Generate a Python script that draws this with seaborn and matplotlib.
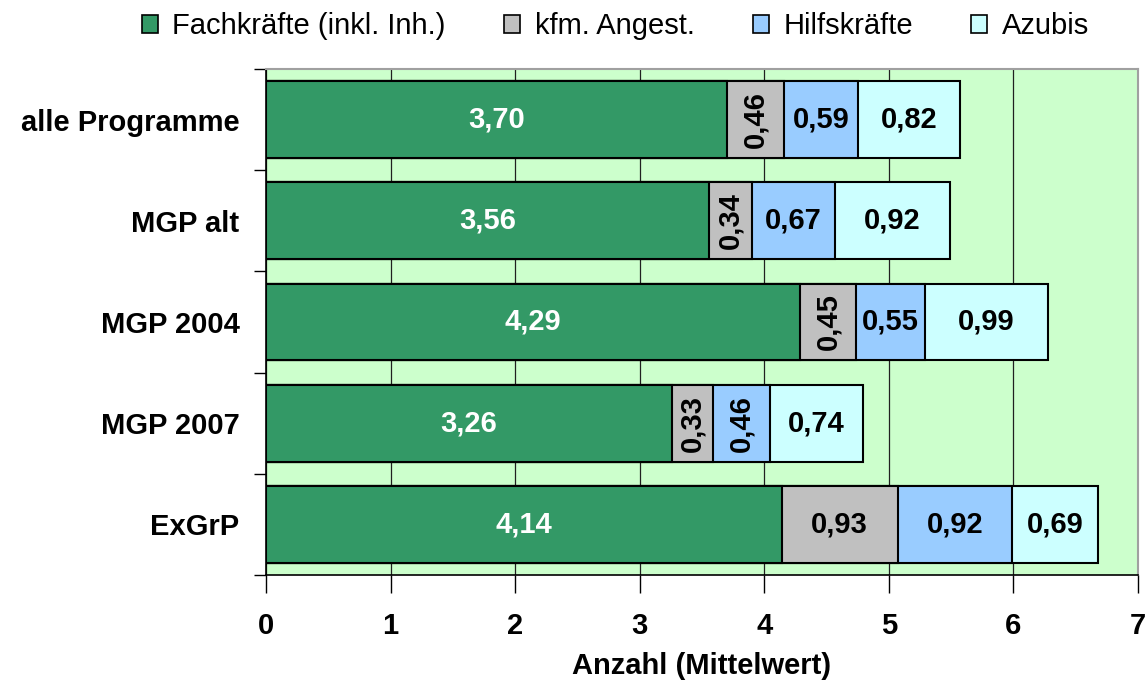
import matplotlib
matplotlib.use("Agg")
import matplotlib.pyplot as plt
from matplotlib.patches import Patch
import numpy as np
import pandas as pd
import seaborn as sns

# Mittelwerte der Beschäftigten je Förderprogramm
categories = ["alle Programme", "MGP alt", "MGP 2004", "MGP 2007", "ExGrP"]
fachkraefte = [3.70, 3.56, 4.29, 3.26, 4.14]
kfm_angest = [0.46, 0.34, 0.45, 0.33, 0.93]
hilfskraefte = [0.59, 0.67, 0.55, 0.46, 0.92]
azubis = [0.82, 0.92, 0.99, 0.74, 0.69]

series_names = ["Fachkräfte (inkl. Inh.)", "kfm. Angest.", "Hilfskräfte", "Azubis"]
series_values = [fachkraefte, kfm_angest, hilfskraefte, azubis]
series_colors = ["#339966", "#C0C0C0", "#99CCFF", "#CCFFFF"]
label_colors = ["white", "black", "black", "black"]
x_ticks = [0, 1, 2, 3, 4, 5, 6, 7]

sns.set_theme(style="white")
plt.rcParams["font.family"] = ["Liberation Sans", "DejaVu Sans"]
plt.rcParams["text.color"] = "black"
plt.rcParams["xtick.color"] = "black"
plt.rcParams["ytick.color"] = "black"
plt.rcParams["axes.labelcolor"] = "black"

fig = plt.figure(figsize=(11.46, 6.89), dpi=100)
ax = fig.add_axes([0.2321, 0.1655, 0.7609, 0.7344])
ax.set_facecolor("#CCFFCC")

vals = np.array(series_values)
cum = np.cumsum(vals, axis=0)
starts = cum - vals

# Stacked bars: draw cumulative totals from the longest down so each segment shows
for i in range(len(series_names) - 1, -1, -1):
    df = pd.DataFrame({"Programm": categories, "Wert": cum[i]})
    sns.barplot(data=df, x="Wert", y="Programm", orient="h", color=series_colors[i],
                saturation=1, width=0.76, edgecolor="black", linewidth=1.5,
                ax=ax, zorder=3)

# Value labels inside the segments
for i in range(len(series_names)):
    for j, cat in enumerate(categories):
        v = vals[i][j]
        xc = starts[i][j] + v / 2
        txt = f"{v:.2f}".replace(".", ",")
        rot = 90 if v < 0.5 else 0
        ax.text(xc, j, txt, ha="center", va="center", rotation=rot,
                color=label_colors[i], fontsize=21, fontweight="bold", zorder=5)

ax.set_xlim(0, 7)
ax.set_ylim(len(categories) - 0.5, -0.5)
ax.set_xticks(x_ticks)
ax.set_xticklabels([str(t) for t in x_ticks], fontsize=21, fontweight="bold")
ax.set_yticks(np.arange(len(categories) + 1) - 0.5, minor=False)
ax.set_yticklabels([""] * (len(categories) + 1))
ax.set_yticks(np.arange(len(categories)), minor=True)
ax.set_yticklabels(categories, minor=True, fontsize=21, fontweight="bold")
ax.tick_params(axis="y", which="minor", length=0, pad=19)
ax.tick_params(axis="y", which="major", direction="out", length=9, width=1, color="black", left=True)
ax.tick_params(axis="x", direction="out", length=13, width=1, color="black", bottom=True, pad=14)

ax.xaxis.grid(True, color="#202020", linewidth=0.9, zorder=1)
ax.yaxis.grid(False)
ax.set_axisbelow(True)
ax.set_xlabel("Anzahl (Mittelwert)", fontsize=21, fontweight="bold", labelpad=8)
ax.set_ylabel("")

for side in ["left", "bottom"]:
    ax.spines[side].set_color("black")
    ax.spines[side].set_linewidth(1.2)
for side in ["top", "right"]:
    ax.spines[side].set_color("#A0A0A0")
    ax.spines[side].set_linewidth(1.5)

handles = [Patch(facecolor=c, edgecolor="black", linewidth=1.2) for c in series_colors]
fig.legend(handles, series_names, loc="center", bbox_to_anchor=(0.537, 0.962), ncol=4,
           frameon=False, fontsize=21, handlelength=0.55, handleheight=0.55,
           handletextpad=0.5, columnspacing=2.0)

fig.savefig("out.png", dpi=100)
